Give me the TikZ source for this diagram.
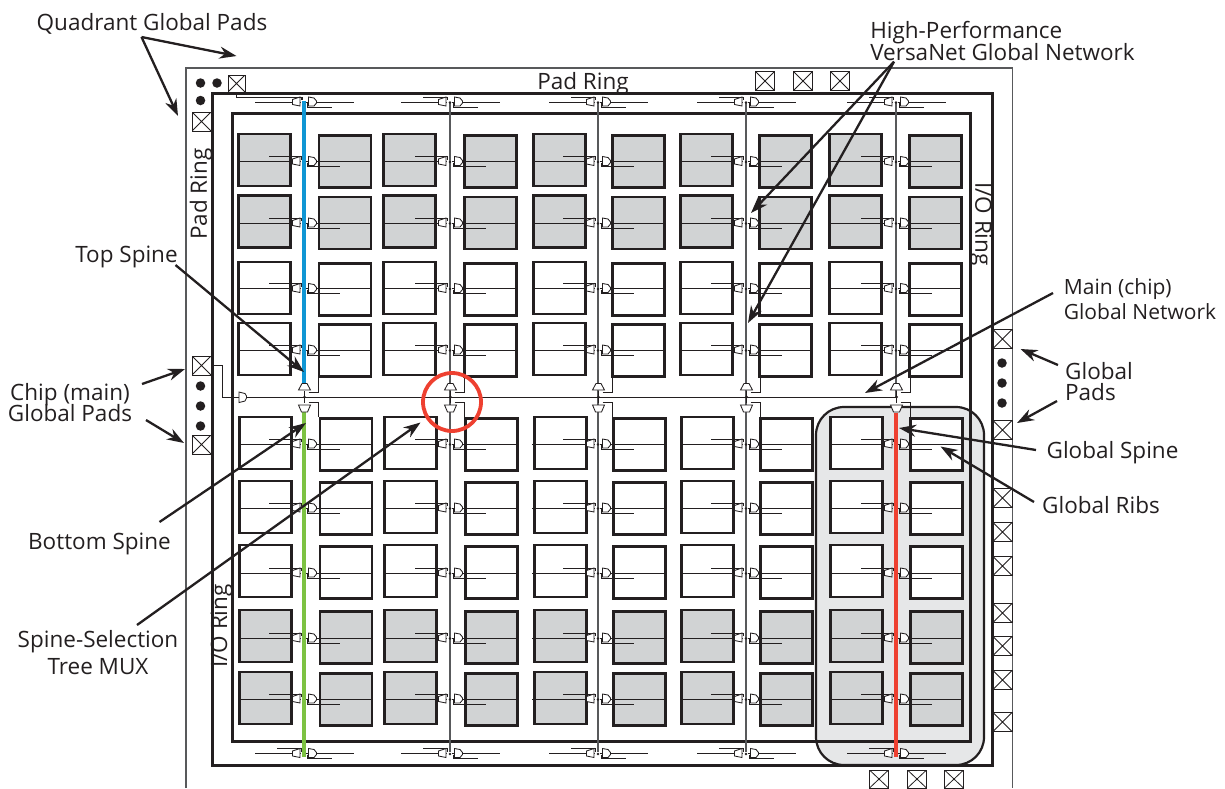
\documentclass[tikz,border=0pt]{standalone}
\usepackage{fontspec}
\setmainfont{Open Sans}
\usetikzlibrary{arrows.meta}
\definecolor{inkline}{HTML}{231F20}
\definecolor{greyline}{HTML}{58595B}
\definecolor{tilegrey}{HTML}{D1D3D4}
\definecolor{zonegrey}{HTML}{E6E7E8}
\definecolor{spineblue}{HTML}{0F96D4}
\definecolor{spinegreen}{HTML}{7DC242}
\definecolor{spinered}{HTML}{EE4030}
\tikzset{
  tilewhite/.style={rectangle,draw=inkline,fill=white,line width=2.2pt,minimum size=52pt,inner sep=0pt,outer sep=0pt},
  tilegray/.style={tilewhite,fill=tilegrey},
  ring/.style={draw=inkline,line width=3pt},
  padbox/.style={rectangle,draw=inkline,line width=0.9pt,minimum size=19pt,inner sep=0pt,outer sep=0pt,fill=white,
    path picture={\draw[line width=0.8pt] (path picture bounding box.north west) -- (path picture bounding box.south east)
      (path picture bounding box.north east) -- (path picture bounding box.south west);}},
  paddot/.style={circle,fill=inkline,minimum size=9.5pt,inner sep=0pt},
  wire/.style={draw=inkline,line width=0.9pt},
  muxbox/.style={draw=inkline,line width=0.85pt,fill=white},
  lbl/.style={font=\fontsize{22.5}{22}\selectfont,text=inkline,align=center,inner sep=0pt},
  leader/.style={draw=inkline,line width=2.3pt,-{Stealth[length=17pt,width=12pt]}},
  pics/ribpair/.style n args={3}{code={
    \draw[wire] (#1,0) -- (-3,0) (2,0) -- (#2,0);
    \draw[wire] (-#3,-5) -- (-2.5,-5) -- (-2.5,-2);
    \draw[wire] (3,1) -- (3,5) -- (#3+1,5);
    \draw[muxbox] (-11.5,-2.5) -- (-4,-5) -- (-4,4) -- (-11.5,2.5) -- cycle;
    \draw[muxbox] (4.5,-5) -- (10,-4) -- (12.5,-1) -- (12.5,1) -- (10,4) -- (4.5,4) -- cycle;
    \fill[inkline] (0,0.5) circle (1.3pt);
  }},
  pics/spinemux/.style={code={
    \draw[wire] (0,-6) -- (0,6);
    \fill[inkline] (0,0) circle (1.5pt);
    \draw[wire] (4,-5) -- (13.5,-5) -- (13.5,-20);
    \draw[wire] (4,5) -- (13.5,5) -- (13.5,20);
    \draw[muxbox] (-2.5,-13.5) -- (2.5,-13.5) -- (6,-7) -- (-6,-7) -- cycle;
    \draw[muxbox] (-6,8) -- (6,8) -- (3,15) -- (-3,15) -- cycle;
  }}
}

\begin{document}
\begin{tikzpicture}[x=1pt,y=-1pt]
\useasboundingbox (0,0) rectangle (1225,788);
% global spine zone
\draw[draw=inkline,line width=2.2pt,fill=zonegrey,rounded corners=28pt] (816,407) rectangle (984,765);
% rings
\draw[draw=greyline,line width=1.3pt] (186,788) -- (186,68) -- (1012.5,68) -- (1012.5,788);
\draw[ring] (212,93.5) rectangle (992,765);
\draw[ring] (232,113) rectangle (970.5,741);
% tiles
\foreach \ty/\tkind/\dx [count=\r] in {160/tilegray/0,221.5/tilegray/0,288/tilewhite/0,349/tilewhite/0,443/tilewhite/1,507/tilewhite/1,571/tilewhite/1,636/tilegray/1,698/tilegray/1}
  \foreach \tx/\dy [count=\c] in {264.5/0,345/1.5,409.5/0,490.5/1.5,559.5/0,638.5/1.5,706.5/0,785.5/1.5,855.5/0,935.5/1.5}
    \node[\tkind] (tile-\r-\c) at (\tx+\dx,\ty+\dy) {};
% plain spines
\foreach \sx in {450,598,746}
  \draw[draw=greyline,line width=1.1pt] (\sx,103) -- (\sx,752);
\draw[draw=greyline,line width=1.1pt] (896,103) -- (896,397);
% ribs
\foreach \sx in {304,450,598,746,896} {
  \foreach \ry in {161.5,223,288.5,350,444,508,573,638,699}
    \pic at (\sx,\ry) {ribpair={-66}{67}{35}};
  \pic at (\sx,102) {ribpair={-49}{50}{27}};
  \pic at (\sx,753.5) {ribpair={-49}{50}{27}};
}
% coloured spines
\draw[draw=spineblue,line width=3.8pt] (304,101) -- (304,383);
\draw[draw=spinegreen,line width=3.8pt] (304,411) -- (304,757);
\draw[draw=spinered,line width=3.8pt] (896,413) -- (896,757);
% pads
\node[padbox,minimum size=17pt] (padcorner) at (236.5,83.5) {};
\node[padbox] (padside) at (201.5,121.5) {};
\node[padbox] (padchipa) at (201.5,365.5) {};
\node[padbox] (padchipb) at (201.5,444.5) {};
\foreach \px [count=\i] in {765,803,840}
  \node[padbox] (padtop-\i) at (\px,81) {};
\foreach \px [count=\i] in {879,917,954}
  \node[padbox,minimum height=18pt] (padbot-\i) at (\px,779) {};
\foreach \py [count=\i] in {339,430,498,532,566,613,646,680,722}
  \node[padbox] (padright-\i) at (1002.5,\py) {};
\foreach \dx/\dy [count=\i] in {200.5/83,217/83,200.5/100.5,200.5/386,200.5/406,200.5/426,1002/363,1002/383,1002/403}
  \node[paddot] (dot-\i) at (\dx,\dy) {};
% main net
\coordinate (netend) at (896,397);
\coordinate (bufchip) at (242.5,397);
\draw[wire] (padchipa.east) -- (222,365.5) -- (222,397) -- (bufchip);
\draw[wire] (bufchip) -- (netend);
\draw[muxbox] (239,392) -- (245,393.5) -- (246.5,396) -- (246.5,398) -- (245,401) -- (239,402.5) -- cycle;
\draw[wire] (padcorner.south) -- (236.5,97) -- (302,97) -- (302,100);
\foreach \sx in {304.5,450.5,598.5,746.5,896.5}
  \pic at (\sx,397) {spinemux};
\node[draw=spinered,line width=3.8pt,circle,minimum size=58pt,inner sep=0pt] (selring) at (452,402) {};
% labels
\node[lbl] (lblquad) at (152,24) {Quadrant Global Pads};
\node[lbl,align=left] (lblhigh) at (1002.5,41) {High-Performance\\[-1.4pt]VersaNet Global Network};
\node[lbl] (lblpadtop) at (583,84) {Pad Ring};
\node[lbl,rotate=90] (lblpadleft) at (201,194) {Pad Ring};
\node[lbl,rotate=-90] (lblioright) at (981,224) {I/O Ring};
\node[lbl,rotate=90] (lblioleft) at (221.5,626) {I/O Ring};
\node[lbl] (lbltop) at (126.5,257) {Top Spine};
\node[lbl] (lblchip) at (70,403) {Chip (main)\\[-2.5pt]Global Pads};
\node[lbl] (lblbottom) at (99.5,544) {Bottom Spine};
\node[lbl] (lblsel) at (98,653) {Spine-Selection\\[5pt]Tree MUX};
\node[lbl,align=left,font=\fontsize{21}{22}\selectfont] (lblmain) at (1140,299) {Main (chip)\\[3pt]Global Network};
\node[lbl,align=left] (lblpads) at (1099,382) {Global\\[-1pt]Pads};
\node[lbl] (lblspine) at (1112.5,453) {Global Spine};
\node[lbl] (lblribs) at (1101,505) {Global Ribs};
% leaders
\coordinate (tipquada) at (236.5,56);
\coordinate (tipquadb) at (178,116);
\coordinate (tiphigha) at (751,213);
\coordinate (tiphighb) at (748,323);
\coordinate (tiptop) at (304,372);
\coordinate (tipchipa) at (185,369);
\coordinate (tipchipb) at (184,443);
\coordinate (tipbottom) at (306,423);
\coordinate (tipsel) at (420.5,422.5);
\coordinate (tipmain) at (865,393);
\coordinate (tippadsa) at (1020.5,349);
\coordinate (tippadsb) at (1017,423);
\coordinate (tipspine) at (899,428);
\coordinate (tipribs) at (940.5,446.5);
\draw[leader] ([shift={(-10.5,13)}]lblquad.center) -- (tipquada);
\draw[leader] ([shift={(-10.5,13)}]lblquad.center) -- (tipquadb);
\draw[leader] ([shift={(-108.5,20.7)}]lblhigh.center) -- (tiphigha);
\draw[leader] ([shift={(-108.5,20.7)}]lblhigh.center) -- (tiphighb);
\draw[leader] ([shift={(49,8)}]lbltop.center) -- (tiptop);
\draw[leader] ([shift={(72,-19)}]lblchip.center) -- (tipchipa);
\draw[leader] ([shift={(76,17)}]lblchip.center) -- (tipchipb);
\draw[leader] ([shift={(60,-22)}]lblbottom.center) -- (tipbottom);
\draw[leader] ([shift={(39,-28)}]lblsel.center) -- (tipsel);
\draw[leader] ([shift={(-87,-6)}]lblmain.center) -- (tipmain);
\draw[leader] ([shift={(-41,-17)}]lblpads.center) -- (tippadsa);
\draw[leader] ([shift={(-42,19)}]lblpads.center) -- (tippadsb);
\draw[leader] ([shift={(-76.5,-3)}]lblspine.center) -- (tipspine);
\draw[leader] ([shift={(-67,-3)}]lblribs.center) -- (tipribs);
\end{tikzpicture}
\end{document}
